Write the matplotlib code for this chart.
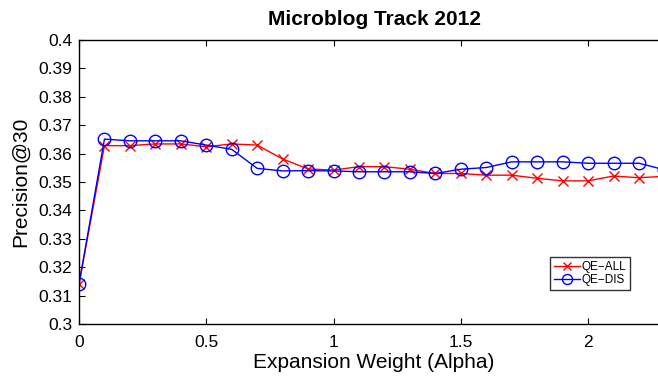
import matplotlib
matplotlib.use("Agg")
import matplotlib.pyplot as plt
import numpy as np

plt.rcParams['font.family'] = ['Liberation Sans', 'DejaVu Sans']

alpha = [0.0, 0.1, 0.2, 0.3, 0.4, 0.5, 0.6, 0.7, 0.8, 0.9, 1.0, 1.1, 1.2, 1.3, 1.4,
         1.5, 1.6, 1.7, 1.8, 1.9, 2.0, 2.1, 2.2, 2.3]
qe_all = [0.314, 0.3628, 0.3628, 0.3634, 0.3634, 0.3624, 0.3634, 0.3630, 0.3581, 0.3546,
          0.3542, 0.3554, 0.3554, 0.3545, 0.3530, 0.3530, 0.3524, 0.3524, 0.3513, 0.3504,
          0.3504, 0.3521, 0.3515, 0.3520]
qe_dis = [0.314, 0.3651, 0.3645, 0.3645, 0.3645, 0.3630, 0.3615, 0.3548, 0.3539, 0.3540,
          0.3539, 0.3536, 0.3536, 0.3536, 0.3530, 0.3545, 0.3551, 0.3571, 0.3571, 0.3571,
          0.3566, 0.3566, 0.3566, 0.3543]
yticks = [0.3, 0.31, 0.32, 0.33, 0.34, 0.35, 0.36, 0.37, 0.38, 0.39, 0.4]
yticklabels = ["0.3", "0.31", "0.32", "0.33", "0.34", "0.35", "0.36", "0.37", "0.38", "0.39", "0.4"]
xticks = [0, 0.5, 1, 1.5, 2]
xticklabels = ["0", "0.5", "1", "1.5", "2"]

fig = plt.figure(figsize=(6.58, 3.84), dpi=100)
# axes extends slightly past the right edge of the figure (cropped as in the reference)
ax = fig.add_axes([79 / 658, 1 - 324 / 384, 590 / 658, 284 / 384])
ax.plot(alpha, qe_all, color="red", marker="x", markersize=7, linewidth=1.0,
        markeredgewidth=1.0, label="QE\u2212ALL")
ax.plot(alpha, qe_dis, color="blue", marker="o", markersize=9, markerfacecolor="none",
        linewidth=1.0, markeredgewidth=1.0, label="QE\u2212DIS")
ax.set_xlim(0, 2.318)
ax.set_ylim(0.3, 0.4)
ax.set_yticks(yticks)
ax.set_yticklabels(yticklabels)
ax.set_xticks(xticks)
ax.set_xticklabels(xticklabels)
ax.tick_params(direction="in", labelsize=12.5, length=4, top=True, right=True, pad=5)
ax.tick_params(axis="x", pad=8)
for s in ax.spines.values():
    s.set_linewidth(1.0)
ax.set_xlabel("Expansion Weight (Alpha)", fontsize=15, labelpad=2)
ax.set_ylabel("Precision@30", fontsize=15, labelpad=6)
ax.set_title("Microblog Track 2012", fontsize=15, fontweight="bold", pad=11)
leg = fig.legend(loc="lower left", bbox_to_anchor=(550 / 658, 1 - 290 / 384), fontsize=8.5,
                 frameon=True, fancybox=False, edgecolor="black", handlelength=2.2,
                 borderpad=0.3, labelspacing=0.15, handletextpad=0.2, markerscale=0.8,
                 borderaxespad=0)
leg.get_frame().set_linewidth(1.0)
fig.savefig("out.png", dpi=100)
